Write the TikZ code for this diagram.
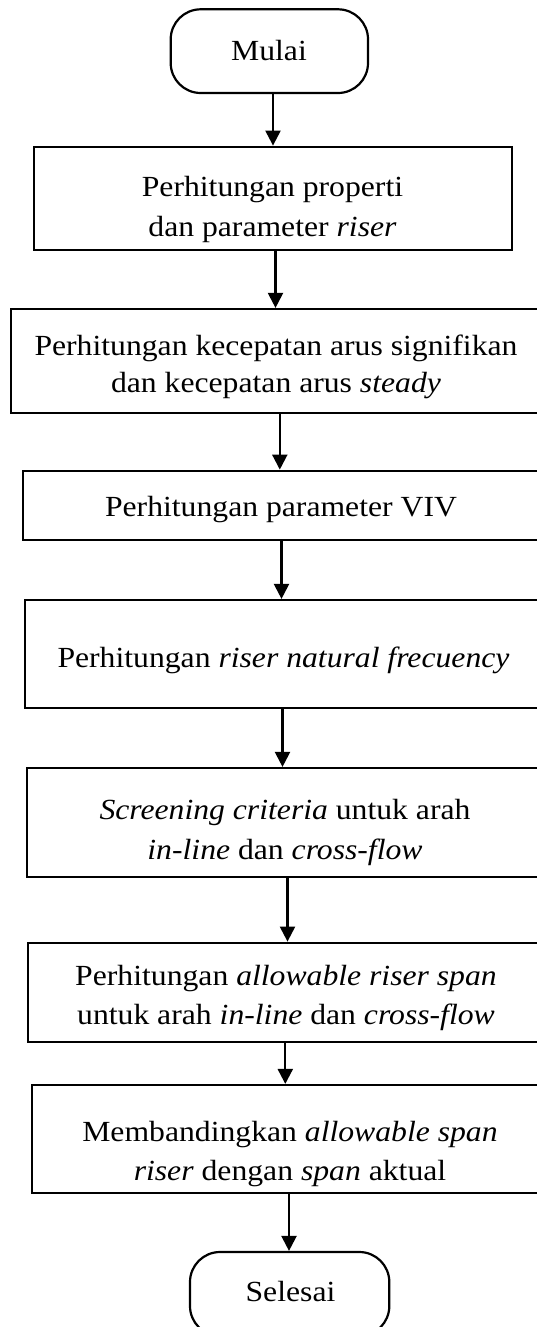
\documentclass[tikz,border=0pt]{standalone}
\usepackage{fontspec}
\setmainfont{Liberation Serif}[FakeStretch=1.085]
\usetikzlibrary{arrows.meta}

\tikzset{
  procbox/.style={draw, line width=2.2pt, rectangle, inner sep=0pt},
  termbox/.style={draw, line width=2.2pt, rectangle, rounded corners=30pt, inner sep=0pt},
  txt/.style={anchor=base, inner sep=0pt, font=\fontsize{29.2}{39}\selectfont},
  flow/.style={line width=2.2pt, -{Triangle[width=15pt,length=15pt]}},
}

\begin{document}
\begin{tikzpicture}[x=1pt, y=-1pt]
  % page frame
  \path[use as bounding box] (0,0) rectangle (537,1327);
  \clip (0,0) rectangle (537,1327);

  % boxes
  \node[termbox, minimum width=197.3pt, minimum height=83.7pt] (start) at (269.35,51.15) {};
  \node[procbox, minimum width=478.3pt, minimum height=103.3pt] (b1) at (273.15,198.35) {};
  \node[procbox, minimum width=530pt,   minimum height=103.7pt] (b2) at (276,360.85) {};
  \node[procbox, minimum width=516.3pt, minimum height=69.3pt]  (b3) at (280.85,505.35) {};
  \node[procbox, minimum width=517pt,   minimum height=108pt]   (b4) at (283.5,654) {};
  \node[procbox, minimum width=516.3pt, minimum height=109pt]   (b5) at (284.85,822.5) {};
  \node[procbox, minimum width=516.3pt, minimum height=99pt]    (b6) at (285.85,992.2) {};
  \node[procbox, minimum width=516.3pt, minimum height=108pt]   (b7) at (289.85,1139) {};
  \node[termbox, minimum width=199.3pt, minimum height=84pt]    (stop) at (289.65,1294) {};

  % texts
  \node[txt] (t0)  at (269,61)      {Mulai};
  \node[txt] (t1a) at (272.5,196.2) {Perhitungan properti};
  \node[txt] (t1b) at (272.5,236.3) {dan parameter \textit{riser}};
  \node[txt] (t2a) at (276,355)     {Perhitungan kecepatan arus signifikan};
  \node[txt] (t2b) at (276,392.7)   {dan kecepatan arus \textit{steady}};
  \node[txt] (t3)  at (281,516)     {Perhitungan parameter VIV};
  \node[txt] (t4)  at (283.5,667)   {Perhitungan \textit{riser natural frecuency}};
  \node[txt] (t5a) at (285,819.5)   {\textit{Screening criteria} untuk arah};
  \node[txt] (t5b) at (285,859)     {\textit{in-line} dan \textit{cross-flow}};
  \node[txt] (t6a) at (286,985.6)   {Perhitungan \textit{allowable riser span}};
  \node[txt] (t6b) at (286,1024)    {untuk arah \textit{in-line} dan \textit{cross-flow}};
  \node[txt] (t7a) at (290,1141.4)  {Membandingkan \textit{allowable span}};
  \node[txt] (t7b) at (290,1180.8)  {\textit{riser} dengan \textit{span} aktual};
  \node[txt] (t8)  at (290.5,1301.7){Selesai};

  % connector columns
  \coordinate (ax1) at (273,0);
  \coordinate (ax2) at (275.5,0);
  \coordinate (ax3) at (279.8,0);
  \coordinate (ax4) at (281.5,0);
  \coordinate (ax5) at (282.5,0);
  \coordinate (ax6) at (287.5,0);
  \coordinate (ax7) at (285.3,0);
  \coordinate (ax8) at (289,0);

  % connectors
  \draw[flow] (start.south -| ax1) -- (b1.north -| ax1);
  \draw[flow] (b1.south -| ax2) -- (b2.north -| ax2);
  \draw[flow] (b2.south -| ax3) -- (b3.north -| ax3);
  \draw[flow] (b3.south -| ax4) -- (b4.north -| ax4);
  \draw[flow] (b4.south -| ax5) -- (b5.north -| ax5);
  \draw[flow] (b5.south -| ax6) -- (b6.north -| ax6);
  \draw[flow] (b6.south -| ax7) -- (b7.north -| ax7);
  \draw[flow] (b7.south -| ax8) -- (stop.north -| ax8);
\end{tikzpicture}
\end{document}
